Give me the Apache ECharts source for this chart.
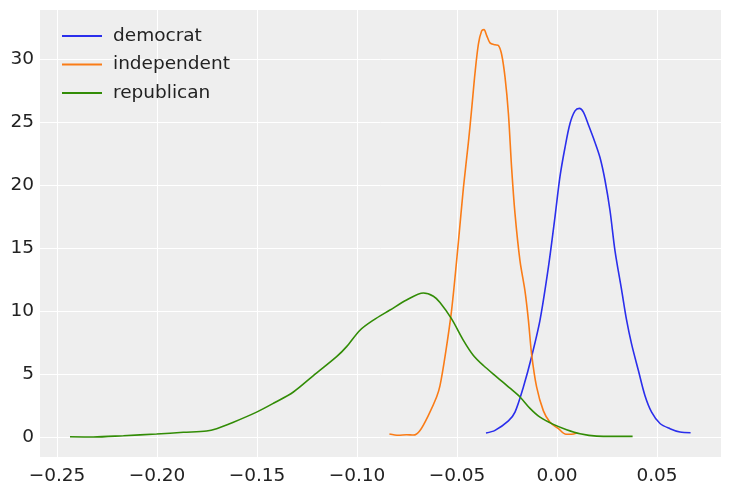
<!DOCTYPE html>
<html>
<head>
<meta charset="utf-8">
<script src="https://cdn.jsdelivr.net/npm/echarts@6/dist/echarts.min.js"></script>
<style>html,body{margin:0;padding:0;background:#fff;}#c{width:731px;height:491px;}</style>
</head>
<body>
<div id="c"></div>
<script>
const seriesNames = ['democrat', 'independent', 'republican'];
const seriesColors = ['#2a2eec', '#fa7c17', '#328c06'];
const xTicks = [-0.25, -0.20, -0.15, -0.10, -0.05, 0.00, 0.05];
const yTicks = [0, 5, 10, 15, 20, 25, 30];

const democrat = [
  [-0.0355,0.34],[-0.031,0.55],[-0.0243,1.3],[-0.021,2.0],[-0.0168,4.0],[-0.0127,6.4],
  [-0.0085,9.3],[-0.0043,13.5],[-0.001,17.5],[0.0015,20.7],[0.004,23.0],[0.0065,24.9],
  [0.009,25.9],[0.0112,26.1],[0.0132,25.8],[0.0157,24.8],[0.019,23.4],[0.0215,22.2],
  [0.024,20.4],[0.0265,18.0],[0.029,14.8],[0.0323,11.7],[0.0348,9.3],[0.0373,7.4],
  [0.0407,5.3],[0.044,3.3],[0.0473,2.0],[0.0515,1.1],[0.0565,0.69],[0.0615,0.42],[0.0668,0.37]
];
const independent = [
  [-0.0838,0.26],[-0.0793,0.16],[-0.0752,0.21],[-0.0718,0.18],[-0.0685,0.55],[-0.0643,1.75],
  [-0.0602,3.2],[-0.0585,4.1],[-0.0560,6.4],[-0.0527,10.1],[-0.0493,15.5],[-0.0468,19.8],
  [-0.0443,23.4],[-0.0427,26.0],[-0.041,28.9],[-0.0393,31.2],[-0.0377,32.25],[-0.0365,32.35],
  [-0.0352,31.9],[-0.0335,31.3],[-0.031,31.15],[-0.0293,31.1],[-0.0277,30.4],[-0.026,28.6],
  [-0.0243,25.7],[-0.0227,21.4],[-0.021,17.75],[-0.0185,14.0],[-0.016,11.6],[-0.0143,9.3],
  [-0.0127,6.6],[-0.0102,4.0],[-0.0068,2.1],[-0.0035,1.2],[0.0007,0.69],[0.0045,0.24],
  [0.0073,0.24],[0.0098,0.34]
];
const republican = [
  [-0.2435,0.05],[-0.2318,0.03],[-0.2168,0.13],[-0.2002,0.26],[-0.1868,0.4],[-0.1752,0.5],
  [-0.1702,0.69],[-0.1618,1.2],[-0.1502,2.0],[-0.1418,2.7],[-0.1318,3.6],[-0.1218,4.9],
  [-0.1102,6.4],[-0.1052,7.2],[-0.0985,8.5],[-0.0918,9.3],[-0.0835,10.1],[-0.0752,10.9],
  [-0.0668,11.45],[-0.0618,11.2],[-0.0585,10.7],[-0.0527,9.4],[-0.0468,7.7],[-0.0418,6.5],
  [-0.0368,5.7],[-0.0302,4.8],[-0.0235,3.9],[-0.0185,3.2],[-0.0135,2.3],[-0.0085,1.6],
  [-0.0018,1.03],[0.0048,0.61],[0.0115,0.29],[0.0198,0.1],[0.0282,0.08],[0.0378,0.08]
];
const seriesData = [democrat, independent, republican];

const fmt = v => {
  const s = Math.abs(v).toFixed(2);
  return (v < -1e-9 ? '\u2212' : '') + s;
};

const FS = 18.5;
const chart = echarts.init(document.getElementById('c'), null, {renderer: 'canvas'});
chart.setOption({
  animation: false,
  backgroundColor: '#ffffff',
  textStyle: {fontFamily: 'DejaVu Sans'},
  grid: {left: 40, right: 10, top: 10, bottom: 34, show: true, backgroundColor: '#eeeeee', borderWidth: 0, containLabel: false},
  legend: {
    orient: 'vertical', left: 57, top: 20, itemGap: 6.5,
    itemWidth: 40, itemHeight: 2, icon: 'rect',
    textStyle: {fontSize: FS, color: '#222222', lineHeight: 22, padding: [0, 0, 0, 6], fontFamily: 'DejaVu Sans'},
    data: seriesNames
  },
  xAxis: {
    type: 'value', min: -0.2585, max: 0.082,
    axisLine: {show: false},
    axisTick: {show: false, customValues: xTicks},
    axisLabel: {customValues: xTicks, formatter: fmt, fontSize: FS, color: '#222222', margin: 10, fontFamily: 'DejaVu Sans'},
    splitLine: {show: true, lineStyle: {color: '#ffffff', width: 1}}
  },
  yAxis: {
    type: 'value', min: -1.56, max: 33.91,
    axisLine: {show: false},
    axisTick: {show: false, customValues: yTicks},
    axisLabel: {customValues: yTicks, fontSize: FS, color: '#222222', margin: 6, fontFamily: 'DejaVu Sans'},
    splitLine: {show: true, lineStyle: {color: '#ffffff', width: 1}}
  },
  series: seriesNames.map((n, i) => ({
    name: n, type: 'line', data: seriesData[i], showSymbol: false, symbol: 'none',
    smooth: 0.3,
    lineStyle: {color: seriesColors[i], width: 1.6},
    itemStyle: {color: seriesColors[i]}
  }))
});
</script>
</body>
</html>
